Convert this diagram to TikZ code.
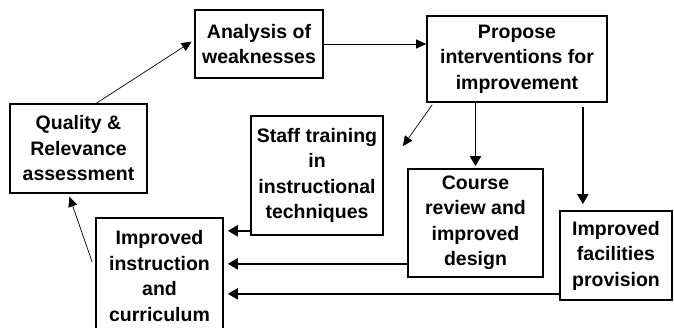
\documentclass[tikz,border=0pt]{standalone}
\usepackage{fontspec}
\setmainfont{Liberation Sans}
\usetikzlibrary{arrows.meta}

\begin{document}
\begin{tikzpicture}[x=1pt, y=-1pt,
    font=\fontsize{19.5}{25.5}\selectfont\bfseries,
    box/.style={draw, line width=1.7pt, align=center, inner sep=0pt},
    thinarr/.style={line width=0.7pt, -{Triangle[length=10pt, width=9pt]}},
    thickarr/.style={line width=1.9pt, -{Triangle[length=10pt, width=11pt]}}]
  \useasboundingbox (0,0) rectangle (674,327);
  % --- the boxes ---
  \node[box, minimum width=128pt, minimum height=68pt] (analysis) at (259,44)
    {Analysis of\\weaknesses};
  \node[box, minimum width=180pt, minimum height=86pt] (propose) at (517,59)
    {Propose\\interventions for\\improvement};
  \node[box, minimum width=137pt, minimum height=89pt] (quality) at (78.5,148.5)
    {Quality \&\\Relevance\\assessment};
  \node[box, minimum width=132pt, minimum height=119pt] (staff) at (317,175.5)
    {Staff training\\in\\instructional\\techniques};
  \node[box, minimum width=135pt, minimum height=108pt] (course) at (475.5,223)
    {Course\\review and\\improved\\design};
  \node[box, minimum width=112pt, minimum height=89pt] (facilities) at (616,255.5)
    {Improved\\facilities\\provision};
  \node[box, minimum width=127pt, minimum height=116pt] (instruction) at (159.5,276)
    {Improved\\instruction\\and\\curriculum};
  % --- the loop ---
  \draw[thinarr, shorten >=3pt] ([xshift=18pt]quality.north) -- ([yshift=4pt]analysis.west);
  \draw[thinarr] (analysis.east) -- (analysis.east -| propose.west);
  \draw[thinarr] ([xshift=6pt, yshift=-2pt]propose.south west)
    -- ([xshift=19pt, yshift=-31pt]staff.north east);
  \draw[thickarr, shorten >=2pt] (propose.south -| course.north) -- (course.north);
  \draw[thickarr, shorten <=4pt, shorten >=6pt] ([xshift=-25pt]propose.south east)
    -- ([xshift=-25pt]propose.south east |- facilities.north);
  % --- everything feeds the instruction box ---
  \foreach \src/\dy in {staff/5, course/14, facilities/7}
    {\draw[thickarr, shorten >=4pt] ([yshift=\dy pt]\src.south west)
       -- ([yshift=\dy pt]\src.south west -| instruction.east);}
  \draw[thinarr, shorten >=3pt] ([xshift=-3pt, yshift=14pt]instruction.west)
    -- ([xshift=-10pt]quality.south);
\end{tikzpicture}
\end{document}
